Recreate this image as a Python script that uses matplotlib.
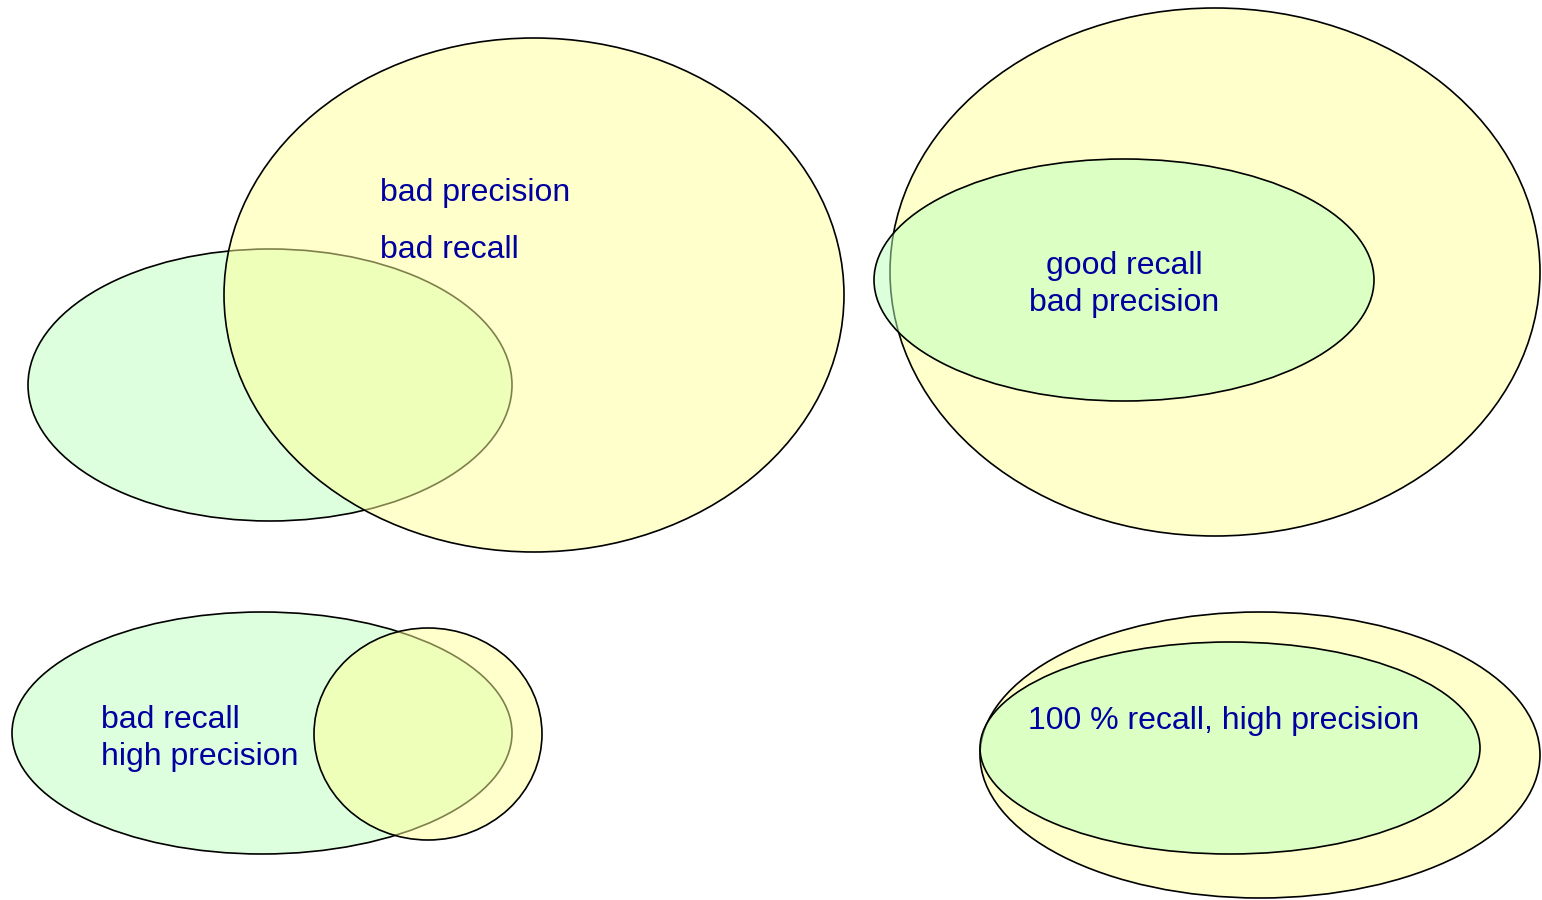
import matplotlib
matplotlib.use('Agg')
import matplotlib.pyplot as plt
from matplotlib.patches import Ellipse

plt.rcParams['font.family'] = ['Liberation Sans', 'DejaVu Sans']

# ellipses in pixel units: centre x, centre y, width, height
# order = drawing order; the later one is semi-transparent on top
yellow_1 = (534, 295, 620, 514)
green_1 = (270, 385, 484, 272)
yellow_2 = (1215, 272, 650, 528)
green_2 = (1124, 280, 500, 242)
green_3 = (262, 733, 500, 242)
yellow_3 = (428, 734, 228, 212)
yellow_4 = (1260, 755, 560, 286)
green_4 = (1230, 748, 500, 212)

# (bottom shape, top shape, top colour) per panel
panels = [
    (green_1, 'green', yellow_1, 'yellow'),
    (yellow_2, 'yellow', green_2, 'green'),
    (green_3, 'green', yellow_3, 'yellow'),
    (yellow_4, 'yellow', green_4, 'green'),
]

labels = ['bad precision', 'bad recall', 'good recall', 'bad precision',
          'bad recall', 'high precision', '100 % recall, high precision']
label_x = [380, 380, 1124, 1124, 101, 101, 1028]
label_y = [201, 258, 274, 311, 728, 765, 729]
label_ha = ['left', 'left', 'center', 'center', 'left', 'left', 'left']

# base colours; alpha 0.5 over white gives #FFFFCC / #DDFFDD
base = {'yellow': '#FFFF99', 'green': '#BBFFBB'}
solid = {'yellow': '#FFFFCC', 'green': '#DDFFDD'}

fig = plt.figure(figsize=(15.42, 9), dpi=100)
ax = fig.add_axes([0, 0, 1, 1])
ax.set_xlim(0, 1542)
ax.set_ylim(900, 0)
ax.axis('off')

for bottom, bcol, top, tcol in panels:
    x, y, w, h = bottom
    ax.add_patch(Ellipse((x, y), w, h, facecolor=solid[bcol],
                         edgecolor='black', lw=1.2))
    x, y, w, h = top
    ax.add_patch(Ellipse((x, y), w, h, facecolor=base[tcol], alpha=0.5,
                         edgecolor='none'))
    ax.add_patch(Ellipse((x, y), w, h, facecolor='none',
                         edgecolor='black', lw=1.2))

for t, x, y, ha in zip(labels, label_x, label_y, label_ha):
    ax.text(x, y, t, ha=ha, va='baseline', fontsize=23, color='#0000A0')

fig.savefig('out.png', dpi=100)
